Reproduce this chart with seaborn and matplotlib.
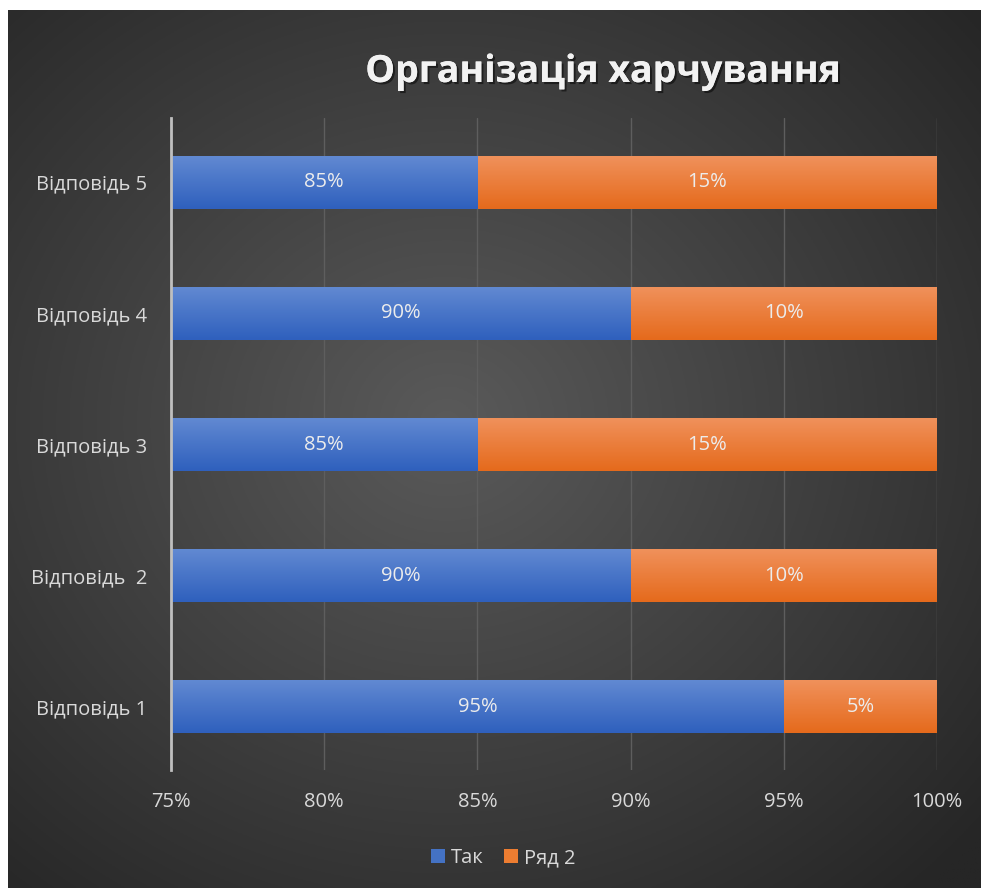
import numpy as np
import pandas as pd
import matplotlib
matplotlib.use("Agg")
import matplotlib.pyplot as plt
import matplotlib.patheffects as pe
from matplotlib.colors import to_rgb
from matplotlib.patches import Patch
import seaborn as sns

# ---- data ----
categories = ["Відповідь 5", "Відповідь 4", "Відповідь 3", "Відповідь  2", "Відповідь 1"]
tak = [85, 90, 85, 90, 95]
ryad2 = [15, 10, 15, 10, 5]
series_names = ["Так", "Ряд 2"]
xticks = [75, 80, 85, 90, 95, 100]
xtick_labels = ["75%", "80%", "85%", "90%", "95%", "100%"]
title = "Організація харчування"

sns.set_theme(style="dark")
plt.rcParams['font.family'] = ['Open Sans', 'DejaVu Sans']

W, H = 981, 888
fig = plt.figure(figsize=(W / 100, H / 100), dpi=100, facecolor="white")

# background radial gradient
bg = fig.add_axes([8 / W, 0, 1 - 8 / W, (H - 10) / H])
bg.set_axis_off()
ny, nx = 400, 440
yy, xx = np.mgrid[0:ny, 0:nx]
cx, cy = nx * 0.45, ny * 0.47
r = np.sqrt(((xx - cx) / nx) ** 2 + ((yy - cy) / ny) ** 2)
r = np.clip(r / 0.72, 0, 1)
c_in = np.array(to_rgb("#5a5a5a"))
c_out = np.array(to_rgb("#262626"))
img = c_in[None, None, :] * (1 - r[..., None]) + c_out[None, None, :] * r[..., None]
bg.imshow(img, aspect="auto", extent=(0, 1, 0, 1), origin="upper")
bg.set_xlim(0, 1); bg.set_ylim(0, 1)

ax = fig.add_axes([171 / W, 1 - 770 / H, (937 - 171) / W, (770 - 118) / H])
ax.patch.set_alpha(0)

df = pd.DataFrame({"cat": categories, "Так": tak, "Ряд 2": ryad2})
df["total"] = df["Так"] + df["Ряд 2"]

XMIN, XMAX = xticks[0], xticks[-1]
blue = "#4472c4"
orange = "#ed7d31"
sns.barplot(data=df, y="cat", x="total", orient="h", color=orange, width=0.4,
            order=categories, ax=ax, saturation=1, linewidth=0)
n_or = len(ax.patches)
sns.barplot(data=df, y="cat", x="Так", orient="h", color=blue, width=0.4,
            order=categories, ax=ax, saturation=1, linewidth=0)

grads = {"o": (to_rgb("#f0915b"), to_rgb("#e56a1c")),
         "b": (to_rgb("#6189d2"), to_rgb("#2f60bd"))}
patches = list(ax.patches)
for i, p in enumerate(patches):
    top_c, bot_c = grads["o"] if i < n_or else grads["b"]
    t = np.linspace(0, 1, 64)[:, None, None]
    g = np.array(top_c)[None, None, :] * (1 - t) + np.array(bot_c)[None, None, :] * t
    x0, y0, w, h = p.get_x(), p.get_y(), p.get_width(), p.get_height()
    xa, xb = max(x0, XMIN), min(x0 + w, XMAX)
    if xb <= xa:
        continue
    z = p.get_zorder() + (0.2 if i >= n_or else 0.0)
    im = ax.imshow(g, extent=(xa, xb, y0 + h, y0), origin="upper",
                   aspect="auto", zorder=z + 0.05)
    p.set_zorder(z)

ax.set_xlim(XMIN, XMAX)
ax.set_ylim(4.48, -0.49)

# labels
txtc = "#ececec"
for j, cat in enumerate(categories):
    v = tak[j]
    ax.text((XMIN + v) / 2, j, f"{v}%", ha="center", va="center", color=txtc, fontsize=14.5, zorder=10)
    ax.text(v + ryad2[j] / 2, j, f"{ryad2[j]}%", ha="center", va="center", color=txtc, fontsize=14.5, zorder=10)

ax.set_xticks(xticks)
ax.set_xticklabels(xtick_labels)
ax.tick_params(axis="both", length=0, colors="#d9d9d9", labelsize=14.5)
ax.tick_params(axis="x", pad=16)
ax.tick_params(axis="y", pad=17)
ax.set_xlabel(""); ax.set_ylabel("")
ax.grid(axis="x", color="#5e5e5e", linewidth=1)
ax.grid(axis="y", visible=False)
ax.set_axisbelow(True)
for s in ["top", "right", "bottom"]:
    ax.spines[s].set_visible(False)
ax.spines["left"].set_color("#bfbfbf")
ax.spines["left"].set_linewidth(2)
ax.spines["left"].set_zorder(20)

fig.text(603 / W, 1 - 72 / H, title, ha="center", va="center", color="#f2f2f2",
         fontsize=27, fontweight="bold",
         path_effects=[pe.withSimplePatchShadow(offset=(1.5, -1.5), shadow_rgbFace="black", alpha=0.5),
                       pe.Normal()])

handles = [Patch(facecolor=blue, edgecolor="none"), Patch(facecolor=orange, edgecolor="none")]
leg = fig.legend(handles, series_names, loc="center", bbox_to_anchor=(503 / W, 1 - 858 / H),
                 ncol=2, frameon=False, fontsize=14.5, handlelength=0.7, handleheight=0.7,
                 handletextpad=0.3, columnspacing=1.0)
for t in leg.get_texts():
    t.set_color("#d9d9d9")

fig.savefig("out.png", dpi=100, facecolor="white")
